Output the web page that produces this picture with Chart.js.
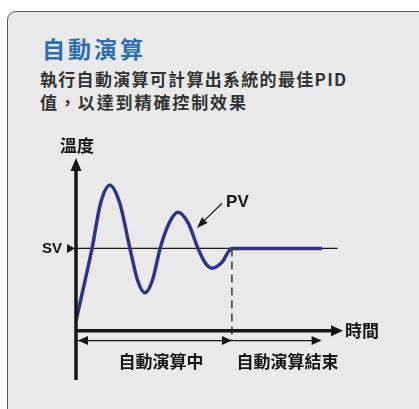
<!DOCTYPE html>
<html>
<head>
<meta charset="utf-8">
<script src="https://cdn.jsdelivr.net/npm/chart.js@4/dist/chart.umd.min.js"></script>
<style>
  html, body { margin: 0; padding: 0; background: #fff; width: 419px; height: 409px; overflow: hidden; }
  #panel {
    position: absolute; left: 7px; top: 11px; width: 440px; height: 420px;
    background: #e9e9e9; border: 1.5px solid #4f5863; border-radius: 9px 0 0 0;
  }
  .title {
    position: absolute; left: 42px; top: 31px; font-family: "Noto Sans CJK TC", sans-serif;
    font-weight: bold; font-size: 23px; letter-spacing: 3px; color: #2a70b0;
  }
  .sub {
    position: absolute; left: 40px; font-family: "Noto Sans CJK TC", sans-serif;
    font-weight: bold; font-size: 17px; letter-spacing: 1.3px; color: #333;
  }
  canvas { position: absolute; left: 0; top: 0; }
</style>
</head>
<body>
<div id="panel"></div>
<div class="title">自動演算</div>
<div class="sub" style="top:66px">執行自動演算可計算出系統的最佳PID</div>
<div class="sub" style="top:89px; letter-spacing:1.9px">值，以達到精確控制效果</div>
<canvas id="chart" width="419" height="409"></canvas>
<script>
// temps et température (PV)
var timeVals = [0, 6, 9.2, 12.7, 16.4, 20.2, 23.0, 25.8, 28.7, 31.5, 34.9, 38.2, 42.0, 45.7, 48.3, 50.9, 54.6, 58.4, 92.1];
var pvVals = [12, 100, 155, 177, 155, 100, 62, 46, 62, 100, 131, 144, 131, 100, 83, 76, 83, 100, 100];
var svValue = 100;
var svEnd = 98;
var tuneEnd = 58.4;
var phaseLabels = ['自動演算中', '自動演算結束'];
var axisLabels = { y: '溫度', x: '時間', sv: 'SV', pv: 'PV' };

var cjk = '"Noto Sans CJK TC", sans-serif';

function arrowHead(ctx, x, y, dir, len, half) {
    ctx.beginPath();
    if (dir === 'up') { ctx.moveTo(x, y); ctx.lineTo(x - half, y + len); ctx.lineTo(x + half, y + len); }
    if (dir === 'right') { ctx.moveTo(x, y); ctx.lineTo(x - len, y - half); ctx.lineTo(x - len, y + half); }
    if (dir === 'left') { ctx.moveTo(x, y); ctx.lineTo(x + len, y - half); ctx.lineTo(x + len, y + half); }
    ctx.closePath();
    ctx.fill();
}

var decor = {
    id: 'decor',
    afterDatasetsDraw: function(chart) {
        var ctx = chart.ctx;
        var xs = chart.scales.x, ys = chart.scales.y;
        var x0 = xs.getPixelForValue(0);
        var y0 = ys.getPixelForValue(0);
        ctx.save();
        ctx.fillStyle = '#161616';
        ctx.strokeStyle = '#161616';

        // axe vertical
        ctx.lineWidth = 3.5;
        ctx.beginPath();
        ctx.moveTo(x0, ys.getPixelForValue(ys.min));
        ctx.lineTo(x0, ys.getPixelForValue(ys.max) + 10);
        ctx.stroke();
        arrowHead(ctx, x0, ys.getPixelForValue(ys.max), 'up', 13, 5.5);

        // axe horizontal
        ctx.beginPath();
        ctx.moveTo(x0, y0);
        ctx.lineTo(xs.getPixelForValue(xs.max) - 8, y0);
        ctx.stroke();
        arrowHead(ctx, xs.getPixelForValue(xs.max), y0, 'right', 12, 5.5);

        // flèches des phases
        var yr = ys.getPixelForValue(-12);
        var xe = xs.getPixelForValue(tuneEnd);
        var xf = xs.getPixelForValue(92);
        ctx.lineWidth = 1.2;
        ctx.beginPath();
        ctx.moveTo(x0 + 2, yr); ctx.lineTo(xf - 4, yr);
        ctx.stroke();
        arrowHead(ctx, x0 + 2, yr, 'left', 10, 4.5);
        arrowHead(ctx, xe, yr, 'right', 10, 4.5);
        arrowHead(ctx, xf, yr, 'right', 10, 4.5);

        // SV
        var ysv = ys.getPixelForValue(svValue);
        arrowHead(ctx, x0 - 1, ysv, 'right', 8, 4.5);
        ctx.font = 'bold 15px "Liberation Sans", Arial, sans-serif';
        ctx.textAlign = 'right';
        ctx.textBaseline = 'middle';
        ctx.fillText(axisLabels.sv, x0 - 14, ysv);

        // PV + flèche
        var tx = xs.getPixelForValue(54.7), ty = ys.getPixelForValue(155);
        var hx = xs.getPixelForValue(45.3), hy = ys.getPixelForValue(125);
        ctx.lineWidth = 1.2;
        ctx.beginPath();
        ctx.moveTo(tx, ty); ctx.lineTo(hx + 5, hy - 5);
        ctx.stroke();
        var ang = Math.atan2(hy - ty, hx - tx);
        ctx.beginPath();
        ctx.moveTo(hx, hy);
        ctx.lineTo(hx - 11 * Math.cos(ang) + 4 * Math.sin(ang), hy - 11 * Math.sin(ang) - 4 * Math.cos(ang));
        ctx.lineTo(hx - 11 * Math.cos(ang) - 4 * Math.sin(ang), hy - 11 * Math.sin(ang) + 4 * Math.cos(ang));
        ctx.closePath();
        ctx.fill();
        ctx.font = 'bold 17px "Liberation Sans", Arial, sans-serif';
        ctx.textAlign = 'left';
        ctx.fillText(axisLabels.pv, tx + 4, ty - 1);

        // titres d'axes
        ctx.font = 'bold 17px ' + cjk;
        ctx.textAlign = 'center';
        ctx.fillText(axisLabels.y, x0 + 1, ys.getPixelForValue(ys.max) - 12);
        ctx.textAlign = 'left';
        ctx.fillText(axisLabels.x, xs.getPixelForValue(xs.max) + 2, y0);

        // libellés des phases
        ctx.textAlign = 'center';
        var yl = ys.getPixelForValue(-38);
        ctx.fillText(phaseLabels[0], (x0 + xe) / 2 + 7, yl);
        ctx.fillText(phaseLabels[1], (xe + xs.getPixelForValue(100)) / 2, yl);
        ctx.restore();
    }
};

var ctx = document.getElementById('chart').getContext('2d');
var chart = new Chart(ctx, {
    type: 'line',
    data: {
        datasets: [{
            label: 'PV',
            data: timeVals.map(function(t, i) { return { x: t, y: pvVals[i] }; }),
            borderColor: '#2f3585',
            borderWidth: 3.5,
            cubicInterpolationMode: 'monotone',
            pointRadius: 0,
            fill: false
        }, {
            label: 'SV',
            data: [{ x: 0, y: svValue }, { x: svEnd, y: svValue }],
            borderColor: '#1a1a1a',
            borderWidth: 1.2,
            pointRadius: 0
        }, {
            label: 'fin',
            data: [{ x: tuneEnd, y: svValue }, { x: tuneEnd, y: -12 }],
            borderColor: '#1a1a1a',
            borderWidth: 1.3,
            borderDash: [8, 5],
            pointRadius: 0
        }]
    },
    options: {
        responsive: false,
        animation: false,
        layout: { padding: { left: 76, right: 76, top: 158, bottom: 29 } },
        plugins: { legend: { display: false }, tooltip: { enabled: false } },
        scales: {
            x: { type: 'linear', min: 0, max: 100, display: false },
            y: { min: -60, max: 210, display: false }
        }
    },
    plugins: [decor]
});
</script>
</body>
</html>
